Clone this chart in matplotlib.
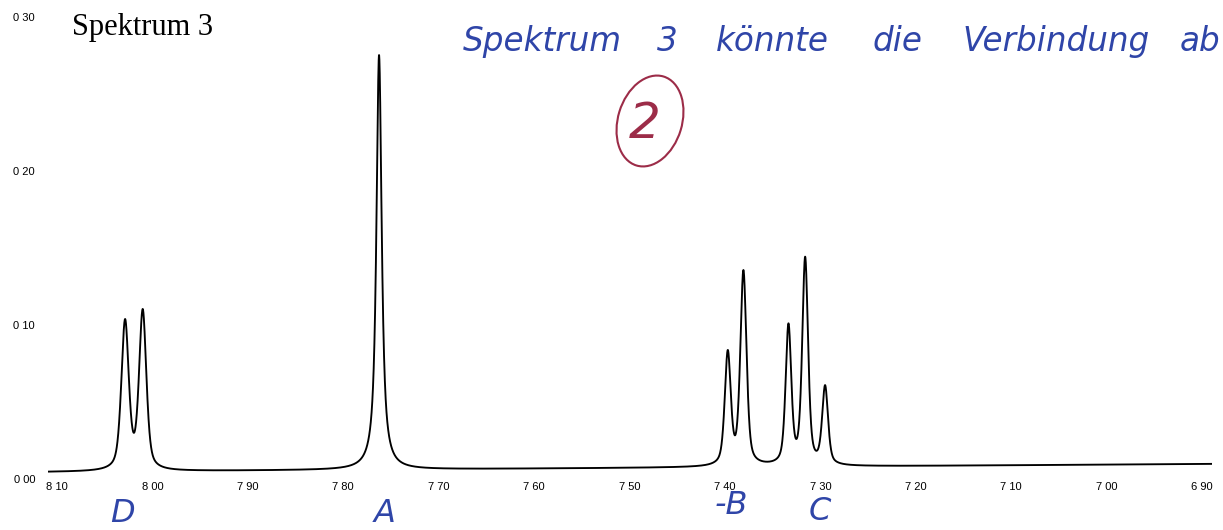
import numpy as np
import matplotlib
matplotlib.use("Agg")
import matplotlib.pyplot as plt
from matplotlib.patches import Ellipse

# ---------------- data ----------------
peak_names = ["D1", "D2", "A", "B1", "B2", "C1", "C2", "C3"]
peak_ppm = [8.0287, 8.0102, 7.7625, 7.3970, 7.3806, 7.3334, 7.3159, 7.2950]
peak_height = [0.1039, 0.1104, 0.2753, 0.0838, 0.1357, 0.1011, 0.1444, 0.0610]
peak_hwhm = [0.0046, 0.0045, 0.0033, 0.0037, 0.0038, 0.0035, 0.0036, 0.0036]
peak_lorentz_frac = [0.5, 0.5, 0.9, 0.5, 0.5, 0.5, 0.5, 0.5]
baseline_ppm = [8.11, 6.89]
baseline_level = [0.0045, 0.0098]

x_ticks = [8.10, 8.00, 7.90, 7.80, 7.70, 7.60, 7.50, 7.40, 7.30, 7.20, 7.10, 7.00, 6.90]
x_tick_labels = ["8 10", "8 00", "7 90", "7 80", "7 70", "7 60", "7 50",
                 "7 40", "7 30", "7 20", "7 10", "7 00", "6 90"]
y_ticks = [0.00, 0.10, 0.20, 0.30]
y_tick_labels = ["0 00", "0 10", "0 20", "0 30"]

title_text = "Spektrum 3"
note_words = ["Spektrum", "3", "könnte", "die", "Verbindung", "ab"]
note_word_x = [463, 657, 716, 873, 962, 1180]
group_letters = ["D", "A", "-B", "C"]
group_letter_xy = [(122, 514), (385, 513), (731, 506), (820, 511)]

# ---------------- build spectrum from peak list ----------------
p = np.array(peak_ppm)
h = np.array(peak_height)
g = np.array(peak_hwhm)
eta = np.array(peak_lorentz_frac)


def base(xv):
    return np.interp(xv, baseline_ppm[::-1], baseline_level[::-1])


def shape(dx, gam, e):
    r = (dx / gam) ** 2
    return e / (1.0 + r) + (1.0 - e) * np.exp(-np.log(2.0) * r)


M = shape(p[:, None] - p[None, :], g[None, :], eta[None, :])
amp = np.linalg.solve(M, h - base(p))

x = np.linspace(baseline_ppm[0], baseline_ppm[1], 10000)
y = base(x) + np.sum(amp[None, :] * shape(x[:, None] - p[None, :], g[None, :], eta[None, :]), axis=1)

# ---------------- figure ----------------
W, H = 1223, 530
fig = plt.figure(figsize=(W / 100, H / 100), dpi=100)
fig.patch.set_facecolor("white")

ax = fig.add_axes([47.5 / W, 51 / H, 1164 / W, 462 / H])
ax.plot(x, y, color="black", lw=1.35, solid_joinstyle="round")
ax.set_xlim(baseline_ppm[0], baseline_ppm[1])
ax.set_ylim(0, 0.30)
for s in ax.spines.values():
    s.set_visible(False)
ax.set_xticks(x_ticks)
ax.set_xticklabels(x_tick_labels, fontfamily="Liberation Sans", fontsize=8)
ax.set_yticks(y_ticks)
ax.set_yticklabels(y_tick_labels, fontfamily="Liberation Sans", fontsize=8)
ax.tick_params(axis="x", length=0, pad=2.5)
ax.tick_params(axis="y", length=0, pad=9)
ax.patch.set_alpha(0)


def fx(px):
    return px / W


def fy(py):
    return 1 - py / H


fig.text(fx(72), fy(35), title_text, fontfamily="Liberation Serif", fontsize=22,
         va="baseline", ha="left", color="black")

blue = "#2f45a8"
for w, xx in zip(note_words, note_word_x):
    fig.text(fx(xx), fy(51), w, fontfamily="DejaVu Sans", fontstyle="oblique",
             fontweight="light", fontsize=23.5, va="baseline", ha="left", color=blue)

red = "#9c2c48"
ell = Ellipse((650 / 100, (H - 121) / 100), 0.64, 0.93, angle=-17,
              transform=fig.dpi_scale_trans, fill=False, edgecolor=red, lw=1.5)
fig.add_artist(ell)
fig.text(fx(645), fy(124), "2", fontfamily="DejaVu Sans", fontstyle="oblique",
         fontweight="light", fontsize=36, va="center", ha="center", color=red)

for t, (xx, yy) in zip(group_letters, group_letter_xy):
    fig.text(fx(xx), fy(yy), t, fontfamily="DejaVu Sans", fontstyle="oblique",
             fontweight="light", fontsize=23, va="center", ha="center", color=blue)

fig.savefig("out.png", dpi=100)
